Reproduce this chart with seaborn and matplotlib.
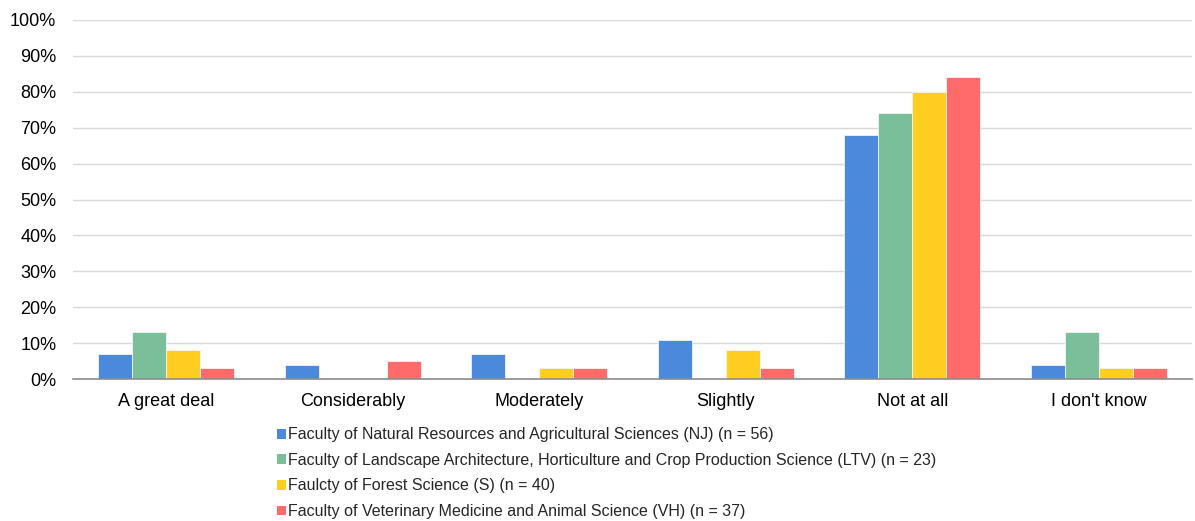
import pandas as pd
import matplotlib.pyplot as plt
import seaborn as sns
from matplotlib.patches import Patch
from matplotlib.ticker import PercentFormatter

categories = ["A great deal", "Considerably", "Moderately", "Slightly", "Not at all", "I don't know"]

faculties = [
    "Faculty of Natural Resources and Agricultural Sciences (NJ) (n = 56)",
    "Faculty of Landscape Architecture, Horticulture and Crop Production Science (LTV) (n = 23)",
    "Faulcty of Forest Science (S) (n = 40)",
    "Faculty of Veterinary Medicine and Animal Science (VH) (n = 37)",
]

nj = [7, 4, 7, 11, 68, 4]
ltv = [13, 0, 0, 0, 74, 13]
s = [8, 0, 3, 8, 80, 3]
vh = [3, 5, 3, 3, 84, 3]

colors = ["#4A89DC", "#7BBF9A", "#FFCE20", "#FF6B6B"]


def build_frame() -> pd.DataFrame:
    rows = []
    for fac, vals in zip(faculties, [nj, ltv, s, vh]):
        for cat, v in zip(categories, vals):
            rows.append({"category": cat, "faculty": fac, "share": v / 100})
    return pd.DataFrame(rows)


df = build_frame()

sns.set_style("white")
plt.rcParams["font.family"] = ["Liberation Sans", "DejaVu Sans"]

fig = plt.figure(figsize=(11.95, 5.21), dpi=100)
ax = fig.add_axes([73 / 1195, 1 - 379 / 521, 1119 / 1195, 359 / 521])

sns.barplot(
    data=df,
    x="category",
    y="share",
    hue="faculty",
    hue_order=faculties,
    order=categories,
    palette=colors,
    saturation=1,
    width=0.73,
    gap=0,
    edgecolor="#F4F4F4",
    linewidth=0.6,
    legend=False,
    ax=ax,
)

ax.set_ylim(0, 1)
ax.set_xlim(-0.5, len(categories) - 0.5)
ax.set_yticks([i / 10 for i in range(11)])
ax.yaxis.set_major_formatter(PercentFormatter(1.0, decimals=0))
ax.grid(axis="y", color="#D9D9D9", linewidth=1)
ax.set_axisbelow(True)
ax.set_xlabel("")
ax.set_ylabel("")
for side in ["left", "right", "top"]:
    ax.spines[side].set_visible(False)
ax.spines["bottom"].set_color("#8C8C8C")
ax.spines["bottom"].set_linewidth(1.2)
ax.tick_params(axis="y", labelsize=13, length=0, pad=12, colors="#000000")
ax.tick_params(axis="x", labelsize=13, length=0, pad=10, colors="#000000")

handles = [Patch(facecolor=c, edgecolor="none") for c in colors]
fig.legend(
    handles,
    faculties,
    loc="upper left",
    bbox_to_anchor=(271 / 1195, 1 - 421 / 521),
    frameon=False,
    fontsize=11.5,
    handlelength=0.55,
    handleheight=0.55,
    handletextpad=0.1,
    labelspacing=0.66,
    borderaxespad=0,
)

fig.savefig("out.png", dpi=100)
plt.close(fig)
